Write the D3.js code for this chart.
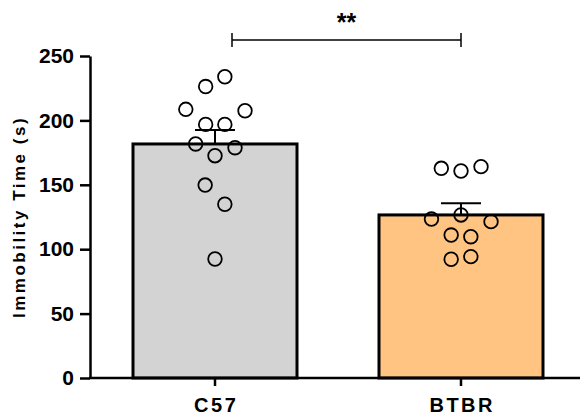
<!DOCTYPE html>
<html><head><meta charset="utf-8">
<script src="https://cdn.jsdelivr.net/npm/d3@7"></script>
<style>body{margin:0;background:#fff}svg{display:block}text{font-family:"Liberation Sans",Arial,sans-serif;font-weight:bold}</style>
</head><body><svg id="c" width="581" height="417"></svg>
<script>
const categories = ["C57", "BTBR"];
const means = [181.7, 126.6];
const sems = [10.8, 9.0];
const barColors = ["#d3d3d3", "#ffc382"];
const c57Values = [233.9, 226.3, 208.6, 207.5, 196.9, 196.9, 181.7, 178.8, 172.6, 149.8, 134.9, 92.4];
const c57Jitter = [0.06, -0.057, -0.178, 0.183, -0.057, 0.06, -0.118, 0.122, 0, -0.06, 0.06, 0];
const btbrValues = [162.8, 160.7, 164.1, 123.4, 126.6, 121.4, 111.0, 109.7, 92.2, 94.2];
const btbrJitter = [-0.12, 0, 0.122, -0.18, 0, 0.183, -0.06, 0.06, -0.06, 0.06];
const yTicks = [0, 50, 100, 150, 200, 250];
const yLabel = "Immobility Time (s)";
const sigLabel = "**";

const svg = d3.select("#c");
const y = d3.scaleLinear().domain([0, 250]).range([378, 56]);
const x = d3.scaleBand().domain(categories).range([92, 584]).paddingInner(1/3).paddingOuter(1/6);
const bw = x.bandwidth();

// bars
svg.selectAll("rect.bar").data(categories).join("rect")
  .attr("x", d => x(d)).attr("y", (d,i) => y(means[i]))
  .attr("width", bw).attr("height", (d,i) => y(0) - y(means[i]))
  .attr("fill", (d,i) => barColors[i]).attr("stroke", "#000").attr("stroke-width", 3);

// error bars (upper)
categories.forEach((c, i) => {
  const cx = x(c) + bw/2;
  svg.append("line").attr("x1", cx).attr("x2", cx).attr("y1", y(means[i])).attr("y2", y(means[i] + sems[i]))
    .attr("stroke", "#000").attr("stroke-width", 2);
  svg.append("line").attr("x1", cx - 20).attr("x2", cx + 20).attr("y1", y(means[i] + sems[i])).attr("y2", y(means[i] + sems[i]))
    .attr("stroke", "#000").attr("stroke-width", 2);
});

// points
const groups = [[c57Values, c57Jitter], [btbrValues, btbrJitter]];
groups.forEach(([vals, jit], i) => {
  const cx = x(categories[i]) + bw/2;
  svg.append("g").selectAll("circle").data(vals).join("circle")
    .attr("cx", (d,j) => cx + jit[j]*bw).attr("cy", d => y(d)).attr("r", 6.8)
    .attr("fill", "none").attr("stroke", "#000").attr("stroke-width", 1.8);
});

// y axis
const ya = svg.append("g").attr("transform", "translate(90,0)")
  .call(d3.axisLeft(y).tickValues(yTicks).tickSize(10).tickSizeOuter(0).tickPadding(6));
ya.select(".domain").attr("stroke-width", 2.5);
ya.selectAll(".tick line").attr("stroke-width", 2.5);
ya.selectAll(".tick text").attr("font-size", 21).attr("font-weight", "bold").attr("fill", "#000")
  .attr("font-family", "Liberation Sans, Arial, sans-serif");

// x axis
const xa = svg.append("g").attr("transform", "translate(0,378)")
  .call(d3.axisBottom(x).tickSize(8).tickPadding(12));
xa.select(".domain").remove();
xa.selectAll(".tick line").attr("stroke-width", 2.5);
xa.selectAll(".tick text").attr("font-size", 20).attr("font-weight", "bold").attr("fill", "#000")
  .attr("letter-spacing", 2.5).attr("dx", 1.2)
  .attr("font-family", "Liberation Sans, Arial, sans-serif");
svg.append("line").attr("x1", 89).attr("x2", 580).attr("y1", 378).attr("y2", 378)
  .attr("stroke", "#000").attr("stroke-width", 2.5);

// y label
svg.append("text").attr("transform", "translate(25,217) rotate(-90)").attr("text-anchor", "middle")
  .attr("font-size", 17).attr("letter-spacing", 2.5).text(yLabel);

// significance
const x1 = x(categories[0]) + bw/2 + 17, x2 = x(categories[1]) + bw/2;
svg.append("line").attr("x1", x1).attr("x2", x2).attr("y1", 40).attr("y2", 40).attr("stroke", "#000").attr("stroke-width", 1.5);
[x1, x2].forEach(xx => svg.append("line").attr("x1", xx).attr("x2", xx).attr("y1", 33).attr("y2", 47).attr("stroke", "#000").attr("stroke-width", 1.5));
svg.append("text").attr("x", (x1 + x2)/2).attr("y", 31).attr("text-anchor", "middle").attr("font-size", 25).text(sigLabel);
</script></body></html>
